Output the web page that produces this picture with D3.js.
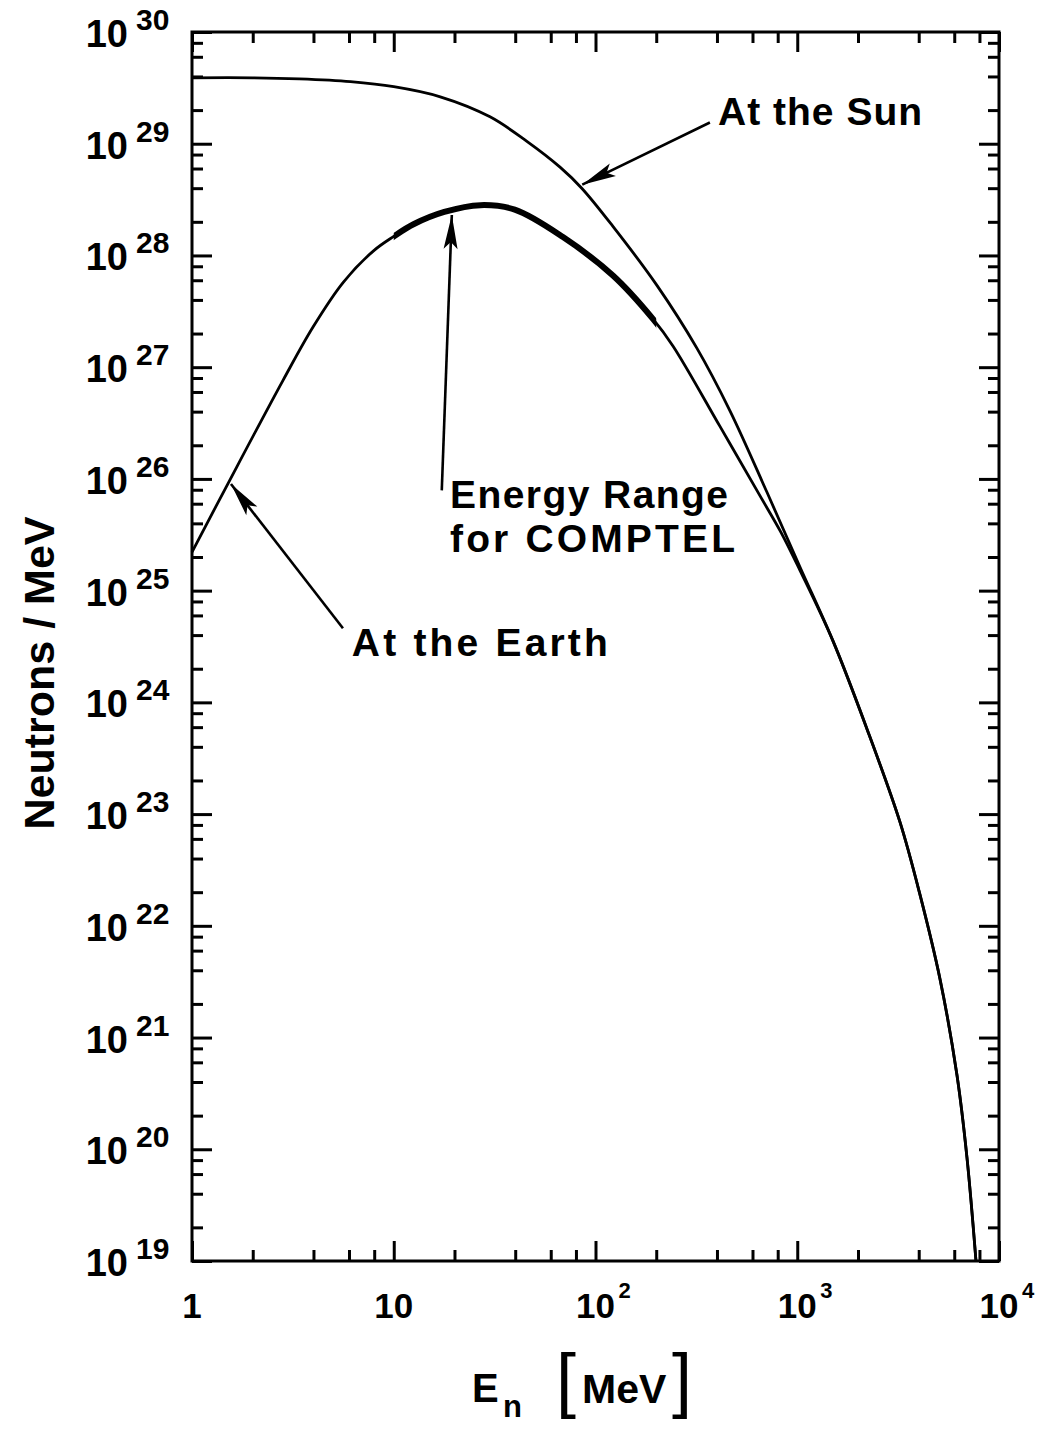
<!DOCTYPE html>
<html>
<head>
<meta charset="utf-8">
<script src="https://cdn.jsdelivr.net/npm/d3@7"></script>
<style>
  html, body { margin: 0; padding: 0; background: #fff; }
  svg { display: block; font-family: "Liberation Sans", Arial, Helvetica, sans-serif; }
</style>
</head>
<body>
<svg id="chart" width="1049" height="1429"></svg>
<script>
// Solar flare neutron spectra, neutrons per MeV vs. neutron energy (MeV)
const sunEnergy = [1, 2, 3.4, 6.1, 10, 17, 30, 45.7, 66.7, 85.7, 122, 202, 318, 464, 708, 1033, 1503, 2218, 3228, 4055, 5105, 6194, 6934, 7691];
const sunFlux   = [3.89e29, 3.89e29, 3.80e29, 3.59e29, 3.24e29, 2.63e29, 1.74e29, 1.05e29, 6.17e28, 3.98e28, 1.82e28, 5.37e27, 1.48e27, 4.07e26, 7.59e25, 1.62e25, 3.55e24, 5.75e23, 8.51e22, 1.91e22, 3.31e21, 4.57e20, 8.51e19, 1.0e19];

const earthEnergy = [1, 1.54, 2.83, 3.98, 5.62, 7.94, 10, 12.6, 17.8, 26.9, 39.8, 69, 122, 193, 242, 414, 653, 832, 1033, 1503, 2218, 3228, 4055, 5105, 6194, 6934, 7691];
const earthFlux   = [2.21e25, 9.77e25, 7.67e26, 2.29e27, 5.75e27, 1.10e28, 1.48e28, 1.91e28, 2.45e28, 2.82e28, 2.57e28, 1.46e28, 6.61e27, 2.69e27, 1.55e27, 2.95e26, 7.08e25, 3.31e25, 1.51e25, 3.55e24, 5.75e23, 8.51e22, 1.91e22, 3.31e21, 4.57e20, 8.51e19, 1.0e19];

// Energy window covered by COMPTEL (MeV)
const comptelRange = [10, 200];

// Axis ticks
const xMajorTicks = [1, 10, 100, 1000, 10000];
const xTickBase   = ["1", "10", "10", "10", "10"];
const xTickExp    = ["", "", "2", "3", "4"];
const yExponents  = [19, 20, 21, 22, 23, 24, 25, 26, 27, 28, 29, 30];
const minorSteps  = [2, 4, 6, 8];

const svg = d3.select("#chart");
const plotLeft = 192, plotRight = 999, plotTop = 32, plotBottom = 1261;

const x = d3.scaleLog().domain([1, 1e4]).range([plotLeft, plotRight]);
const y = d3.scaleLog().domain([1e19, 1e30]).range([plotBottom, plotTop]);

const yMajorTicks = yExponents.map(p => Math.pow(10, p));
const xMinorTicks = [];
xMajorTicks.slice(0, -1).forEach(d => minorSteps.forEach(m => xMinorTicks.push(d * m)));
const yMinorTicks = [];
yMajorTicks.slice(0, -1).forEach(d => minorSteps.forEach(m => yMinorTicks.push(d * m)));

const MAJOR = 20, MINOR = 11;

function tickAxis(gen, transform, values, len) {
  svg.append("g")
    .attr("transform", transform)
    .call(gen.tickValues(values).tickSize(-len).tickFormat(""))
    .call(g => g.select(".domain").remove())
    .call(g => g.selectAll("line").attr("stroke", "#000").attr("stroke-width", 3));
}

// Inward ticks on all four sides
[[xMajorTicks, MAJOR], [xMinorTicks, MINOR]].forEach(([vals, len]) => {
  tickAxis(d3.axisBottom(x), `translate(0,${plotBottom})`, vals, len);
  tickAxis(d3.axisTop(x), `translate(0,${plotTop})`, vals, len);
});
[[yMajorTicks, MAJOR], [yMinorTicks, MINOR]].forEach(([vals, len]) => {
  tickAxis(d3.axisLeft(y), `translate(${plotLeft},0)`, vals, len);
  tickAxis(d3.axisRight(y), `translate(${plotRight},0)`, vals, len);
});

// Frame
svg.append("rect")
  .attr("x", plotLeft).attr("y", plotTop)
  .attr("width", plotRight - plotLeft).attr("height", plotBottom - plotTop)
  .attr("fill", "none").attr("stroke", "#000").attr("stroke-width", 3);

// X tick labels
const xl = svg.append("g").attr("font-weight", "bold").attr("fill", "#000");
xMajorTicks.forEach((v, i) => {
  xl.append("text").attr("x", x(v)).attr("y", 1318)
    .attr("text-anchor", "middle").attr("font-size", 35).text(xTickBase[i]);
  if (xTickExp[i]) {
    xl.append("text").attr("x", x(v) + 23).attr("y", 1298)
      .attr("font-size", 22).text(xTickExp[i]);
  }
});

// Y tick labels
const yl = svg.append("g").attr("font-weight", "bold").attr("fill", "#000");
yExponents.forEach((p, i) => {
  const ty = y(yMajorTicks[i]);
  yl.append("text").attr("x", 128).attr("y", ty + 15)
    .attr("text-anchor", "end").attr("font-size", 38).text("10");
  yl.append("text").attr("x", 136).attr("y", ty - 2)
    .attr("font-size", 30).text(String(p));
});

// Axis titles
svg.append("text")
  .attr("transform", `translate(54,${673}) rotate(-90)`)
  .attr("text-anchor", "middle").attr("font-size", 43).attr("font-weight", "bold")
  .text("Neutrons / MeV");

const xt = svg.append("g").attr("fill", "#000");
xt.append("text").attr("x", 472).attr("y", 1402).attr("font-size", 40).attr("font-weight", "bold").text("E");
xt.append("text").attr("x", 503).attr("y", 1417).attr("font-size", 31).attr("font-weight", "bold").text("n");
xt.append("text").attr("x", 556).attr("y", 1404).attr("font-size", 72).text("[");
xt.append("text").attr("x", 582).attr("y", 1403).attr("font-size", 41).attr("font-weight", "bold").text("MeV");
xt.append("text").attr("x", 672).attr("y", 1404).attr("font-size", 72).text("]");

// Spectra
const line = d3.line().x(d => x(d[0])).y(d => y(d[1])).curve(d3.curveCatmullRom.alpha(0.5));
const sunData = d3.zip(sunEnergy, sunFlux);
const earthData = d3.zip(earthEnergy, earthFlux);

svg.append("path").datum(sunData).attr("d", line)
  .attr("fill", "none").attr("stroke", "#000").attr("stroke-width", 2.8);
svg.append("path").datum(earthData).attr("d", line)
  .attr("fill", "none").attr("stroke", "#000").attr("stroke-width", 2.8);

// Thicker segment over the COMPTEL energy window
svg.append("clipPath").attr("id", "comptel-clip")
  .append("rect")
  .attr("x", x(comptelRange[0])).attr("y", plotTop)
  .attr("width", x(comptelRange[1]) - x(comptelRange[0])).attr("height", plotBottom - plotTop);
svg.append("path").datum(earthData).attr("d", line)
  .attr("clip-path", "url(#comptel-clip)")
  .attr("fill", "none").attr("stroke", "#000").attr("stroke-width", 6)
  .attr("stroke-linecap", "round");

// Annotations: arrows and labels
const defs = svg.append("defs");
defs.append("marker")
  .attr("id", "head").attr("markerUnits", "userSpaceOnUse")
  .attr("viewBox", "-36 -9 38 18").attr("refX", 0).attr("refY", 0)
  .attr("markerWidth", 38).attr("markerHeight", 18).attr("orient", "auto")
  .append("path").attr("d", "M0,0 L-34,-7 L-27,0 L-34,7 Z").attr("fill", "#000");

const arrows = [
  { from: [369, 1.55e29], to: [86, 4.3e28] },    // At the Sun
  { from: [17.3, 7.9e25], to: [19.4, 2.3e28] },  // COMPTEL window
  { from: [5.6, 4.6e24], to: [1.56, 9.0e25] }    // At the Earth
];
arrows.forEach(a => {
  svg.append("line")
    .attr("x1", x(a.from[0])).attr("y1", y(a.from[1]))
    .attr("x2", x(a.to[0])).attr("y2", y(a.to[1]))
    .attr("stroke", "#000").attr("stroke-width", 2.6)
    .attr("marker-end", "url(#head)");
});

const labels = [
  { text: "At the Sun",   at: [405, 1.47e29], len: 204 },
  { text: "Energy Range", at: [19, 5.5e25],   len: 278 },
  { text: "for COMPTEL",  at: [19, 2.2e25],   len: 285 },
  { text: "At the Earth", at: [6.2, 2.6e24],  len: 256 }
];
labels.forEach(l => {
  svg.append("text")
    .attr("x", x(l.at[0])).attr("y", y(l.at[1]))
    .attr("font-size", 39).attr("font-weight", "bold")
    .attr("textLength", l.len).attr("lengthAdjust", "spacing")
    .text(l.text);
});
</script>
</body>
</html>
